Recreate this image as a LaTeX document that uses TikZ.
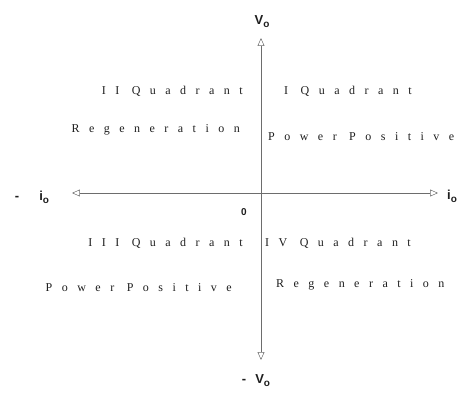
\documentclass[tikz,border=0pt]{standalone}
\usepackage{fontspec}
\setmainfont{Liberation Serif}
\setsansfont{Liberation Sans}
\newfontfamily\spaced[LetterSpace=79]{Liberation Serif}
\usetikzlibrary{arrows.meta}
\definecolor{ink}{HTML}{1E1E1E}

\begin{document}
\begin{tikzpicture}[x=1pt,y=1pt,
  axis/.style={ink!65,line width=0.5pt,-{Triangle[open,length=8pt,width=7pt]}},
  quad/.style={font=\fontsize{12}{14}\spaced,text=ink,inner sep=0pt},
  lbl/.style={font=\fontsize{13}{15}\sffamily\bfseries,text=ink,inner sep=0pt}]
 \useasboundingbox (-261,-206) rectangle (200,193);
 % axes
 \coordinate (O) at (0,0);
 \coordinate (vtop) at (0,155);
 \coordinate (vbot) at (0,-167);
 \coordinate (ileft) at (-189,0);
 \coordinate (iright) at (177,0);
 \draw[axis] (O)--(vtop);
 \draw[axis] (O)--(vbot);
 \draw[axis] (O)--(ileft);
 \draw[axis] (O)--(iright);
 % axis labels
 \node[lbl] (vpos) at (1,171) {V\raisebox{-3pt}{\fontsize{10}{12}\selectfont o}};
 \node[lbl] (vneg) at (-5,-188) {-\hspace{9pt}V\raisebox{-3pt}{\fontsize{10}{12}\selectfont o}};
 \node[lbl] (ineg) at (-229,-4) {-\hspace{20pt}i\raisebox{-3pt}{\fontsize{10}{12}\selectfont o}};
 \node[lbl] (ipos) at (191,-3) {i\raisebox{-3pt}{\fontsize{10}{12}\selectfont o}};
 \node[lbl,font=\fontsize{10}{12}\sffamily\bfseries] (zero) at (-17,-19) {0};
 % quadrant texts
 \node[quad,anchor=east] (q2) at (-18,102) {II Quadrant};
 \node[quad,anchor=west] (q1) at (23,102) {I Quadrant};
 \node[quad,anchor=east] (q2b) at (-21,63) {Regeneration};
 \node[quad,anchor=west] (q1b) at (7,56) {Power Positive};
 \node[quad,anchor=east] (q3) at (-18,-50) {III Quadrant};
 \node[quad,anchor=west] (q4) at (4,-50) {IV Quadrant};
 \node[quad,anchor=east] (q3b) at (-29,-95) {Power Positive};
 \node[quad,anchor=west] (q4b) at (15,-92) {Regeneration};
\end{tikzpicture}
\end{document}
